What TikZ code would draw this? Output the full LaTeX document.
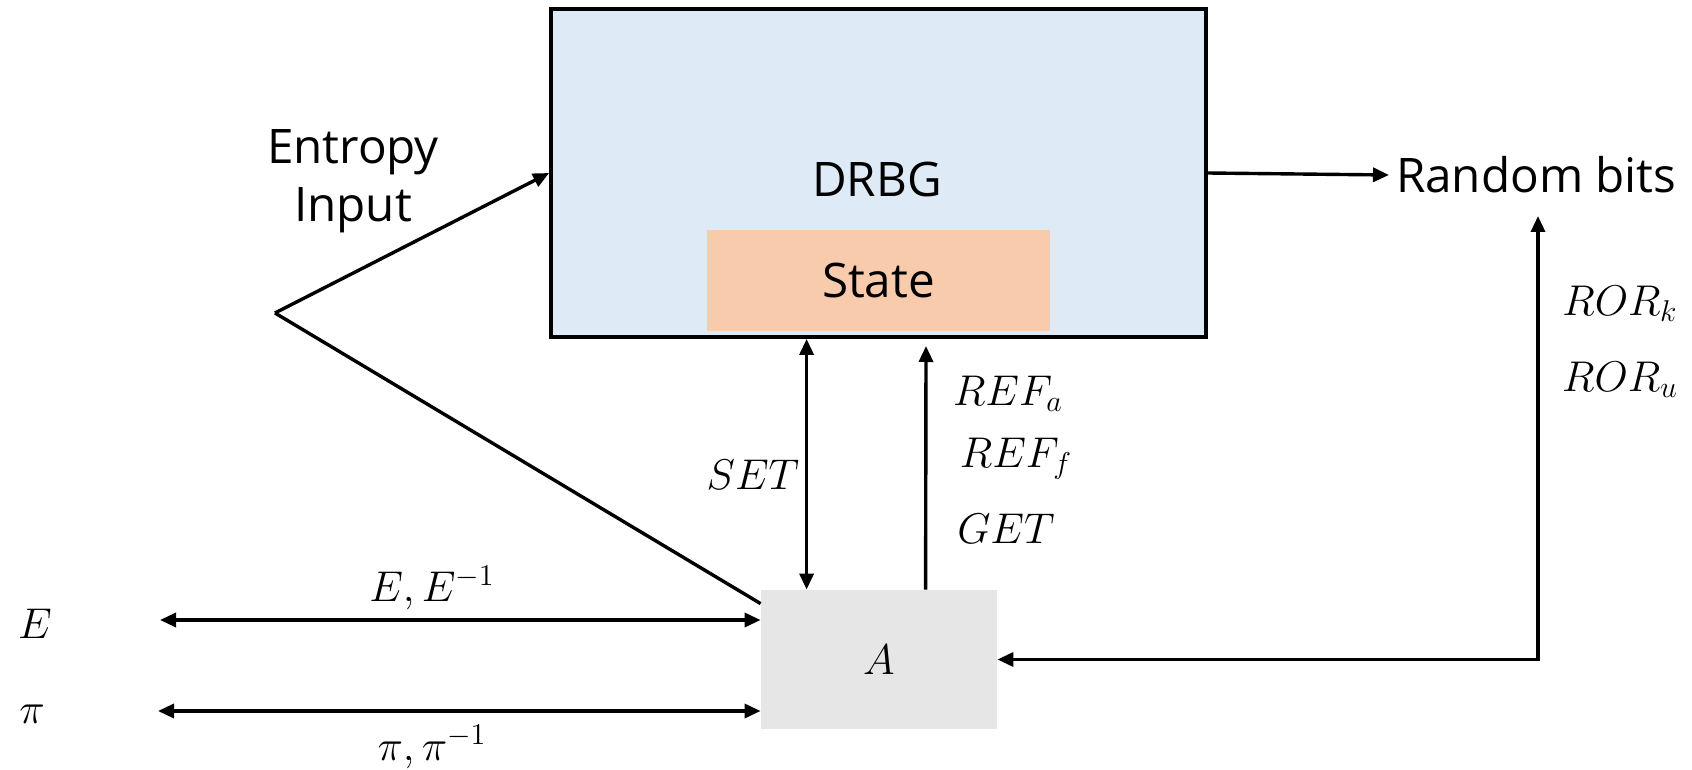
\RequirePackage{fix-cm}
\documentclass[tikz,border=0pt]{standalone}
\usepackage{fontspec}
\setmainfont{Open Sans}
\usetikzlibrary{arrows.meta,positioning}

\definecolor{drbgblue}{HTML}{DEEAF6}
\definecolor{statepeach}{HTML}{F8CBAD}
\definecolor{advgray}{HTML}{E6E6E6}

\begin{document}
\begin{tikzpicture}[x=0.5pt, y=-0.5pt,
    box/.style={draw=black, line width=1.9pt},
    sig/.style={-{Triangle[length=8pt,width=7pt]}},
    bisig/.style={{Triangle[length=8pt,width=7pt]}-{Triangle[length=8pt,width=7pt]}},
    txt/.style={font=\fontsize{23.8}{29}\selectfont},
    mlab/.style={font=\fontsize{21.5}{26}\selectfont}]

\path[use as bounding box, fill=white] (0,0) rectangle (1692,770);

% Blocks
\node[  box,
        fill=drbgblue,
        minimum width=327.5pt,
        minimum height=164pt
    ] (drbg) at (878.5,173) {};
\node[txt] (drbgname) at (877,180) {DRBG};
\node[  fill=statepeach,
        minimum width=171.5pt,
        minimum height=50.5pt,
        txt
    ] (state) at (878.5,280.5) {State};
\node[  fill=advgray,
        minimum width=118pt,
        minimum height=69.5pt,
        mlab
    ] (adv) at (879,659.5) {$A$};

% Texts
\node[txt, align=center] (entropy) at (353,181) {Entropy\\Input};
\node[txt, anchor=west] (bits) at (1389,175) {Random bits};
\node[mlab] (setlbl) at (753,475) {$SET$};
\node[mlab] (refa) at (1008,394) {$REF_a$};
\node[mlab] (reff) at (1016,459) {$REF_f$};
\node[mlab] (getlbl) at (1006,529) {$GET$};
\node[mlab] (rork) at (1620,304) {$ROR_k$};
\node[mlab] (roru) at (1620,380) {$ROR_u$};
\node[mlab] (oracleE) at (35,624) {$E$};
\node[mlab] (oraclepi) at (32,714) {$\pi$};
\node[mlab] (einv) at (432,588) {$E,E^{-1}$};
\node[mlab] (piinv) at (432,747) {$\pi,\pi^{-1}$};

% Free ends
\coordinate (ent) at (275,313);
\coordinate (setlo) at ([xshift=23pt]adv.north west);
\coordinate (reflo) at ([xshift=82.5pt]adv.north west);
\coordinate (refhi) at (926,346);
\coordinate (rorhi) at (1538,216);
\coordinate (Eend) at (160,620);
\coordinate (piend) at (158,711);

% Arcs
\draw[line width=1.7pt]
    (ent) edge[sig] (drbg.west)
    (ent) edge ([yshift=-7pt]adv.north west)
    (setlo) edge[bisig] (setlo |- drbg.south)
    (reflo) edge[sig] (refhi)
    (drbg.east) edge[sig] (bits.west)
    (Eend) edge[bisig] (Eend -| adv.west)
    (piend) edge[bisig] (piend -| adv.west);
\draw[line width=1.7pt, bisig] (rorhi) |- (adv.east);
\end{tikzpicture}
\end{document}
